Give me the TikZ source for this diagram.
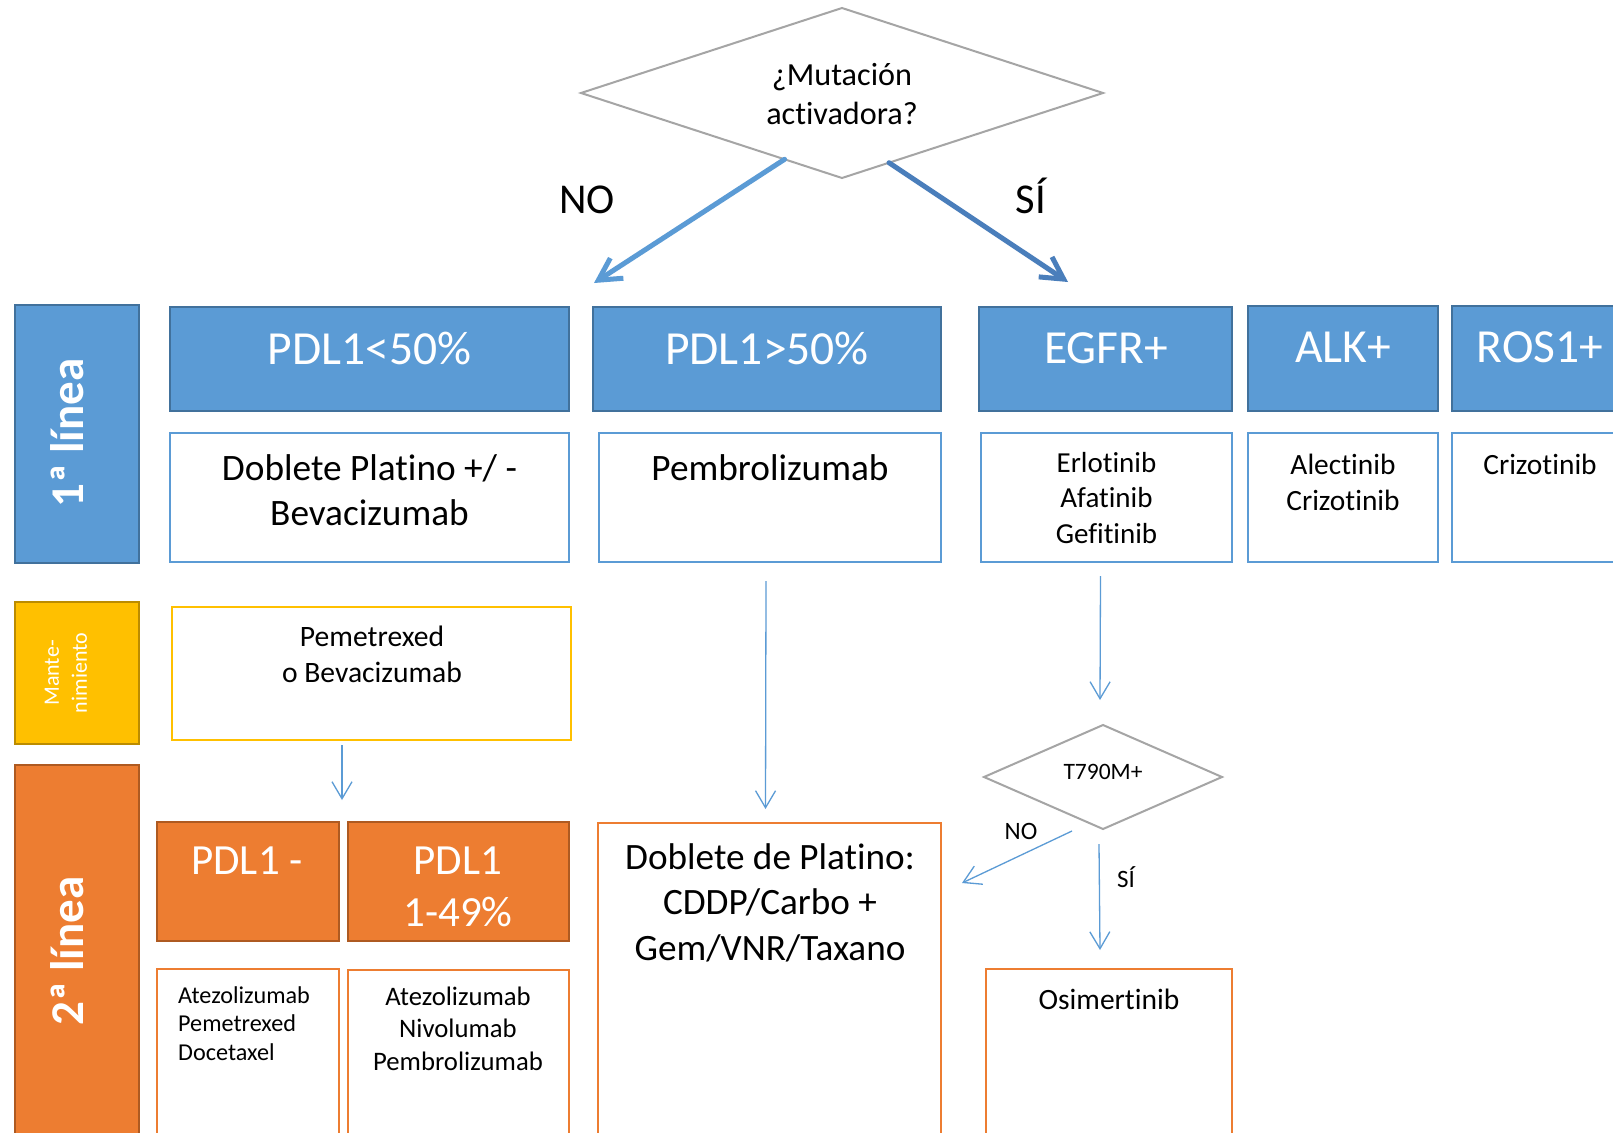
\documentclass[tikz,border=0pt]{standalone}
\usepackage{fontspec}
\setmainfont{Carlito}[Ligatures=NoCommon]
\usetikzlibrary{arrows.meta,calc,shapes.geometric}
\definecolor{bfill}{HTML}{5B9BD5}
\definecolor{bdark}{HTML}{41719C}
\definecolor{ofill}{HTML}{ED7D31}
\definecolor{odark}{HTML}{AE5A21}
\definecolor{yfill}{HTML}{FFC000}
\definecolor{ydark}{HTML}{BC8C00}
\definecolor{dgray}{HTML}{A5A5A5}
\definecolor{sidark}{HTML}{4A7EBB}
\begin{document}
\begin{tikzpicture}[x=1pt,y=-1pt,
  boxbase/.style={inner sep=0pt, outer sep=0pt, anchor=north west},
  hdr/.style={boxbase, draw=bdark, fill=bfill, line width=2.5pt},
  wbox/.style={boxbase, draw=bfill, fill=white, line width=2pt},
  obox/.style={boxbase, draw=odark, fill=ofill, line width=2.5pt},
  owbox/.style={boxbase, draw=ofill, fill=white, line width=2pt},
  ybox/.style={boxbase, draw=ydark, fill=yfill, line width=2.5pt},
  ywbox/.style={boxbase, draw=yfill, fill=white, line width=2.5pt},
  dia/.style={diamond, draw=dgray, line width=2pt, inner sep=0pt, outer sep=0pt},
  txt/.style={inner sep=0pt, anchor=base, align=center},
  htxt/.style={txt, text=white, font=\fontsize{47.5}{56}\selectfont},
  sidetxt/.style={inner sep=0pt, text=white, rotate=90, align=center},
  bigarrow/.style={line width=5pt, line cap=round, -{Straight Barb[length=22pt,width=24pt]}},
  tarrow/.style={draw=bfill, line width=1.3pt, -{Straight Barb[length=17pt,width=20pt]}}
]
\useasboundingbox (0,0) rectangle (1613,1132);
\clip (0,0) rectangle (1613,1132);
\fill[white] (0,0) rectangle (1613,1132);

% ---- decision diamond ----
\node[dia, minimum width=522pt, minimum height=170pt] (q1) at (842,93) {};
\node[txt, font=\fontsize{32.2}{38.5}\selectfont] (q1t) at (842,124) {¿Mutación\\activadora?};

% ---- left side labels ----
\node[hdr, minimum width=124pt, minimum height=258pt] (L1) at (15,305) {};
\node[sidetxt, font=\bfseries\fontsize{47}{54}\selectfont] (L1t) at (67,433) {1ª línea};
\node[ybox, minimum width=124pt, minimum height=142pt] (M) at (15,602) {};
\node[sidetxt, font=\fontsize{22}{28}\selectfont] (Mt) at (66,673) {Mante-\\nimiento};
\node[obox, minimum width=124pt, minimum height=380pt] (L2) at (15,765) {};
\node[sidetxt, font=\bfseries\fontsize{47}{54}\selectfont] (L2t) at (67,951) {2ª línea};

% ---- first line headers ----
\node[hdr, minimum width=399pt, minimum height=104pt] (hA) at (170,307) {};
\node[hdr, minimum width=348pt, minimum height=104pt] (hB) at (593,307) {};
\node[hdr, minimum width=253pt, minimum height=104pt] (hC) at (979,307) {};
\node[hdr, minimum width=190pt, minimum height=105pt] (hD) at (1248,306) {};
\node[hdr, minimum width=176pt, minimum height=105pt] (hE) at (1452,306) {};
\node[htxt] (hAt) at (369.5,364) {PDL1<50\%};
\node[htxt] (hBt) at (767,364) {PDL1>50\%};
\node[htxt] (hCt) at (1106,363) {EGFR+};
\node[htxt] (hDt) at (1343,362) {ALK+};
\node[htxt] (hEt) at (1540,362) {ROS1+};

% ---- first line treatments ----
\node[wbox, minimum width=399pt, minimum height=129pt] (wA) at (170,433) {};
\node[wbox, minimum width=342pt, minimum height=129pt] (wB) at (599,433) {};
\node[wbox, minimum width=251pt, minimum height=129pt] (wC) at (981,433) {};
\node[wbox, minimum width=190pt, minimum height=129pt] (wD) at (1248,433) {};
\node[wbox, minimum width=176pt, minimum height=129pt] (wE) at (1452,433) {};
\node[txt, font=\fontsize{37.3}{45}\selectfont] (wAt) at (369.5,525) {Doblete Platino +/ -\\Bevacizumab};
\node[txt, font=\fontsize{37.3}{45}\selectfont] (wBt) at (770,480) {Pembrolizumab};
\node[txt, font=\fontsize{29}{35.5}\selectfont] (wCt) at (1106.5,543) {Erlotinib\\Afatinib\\Gefitinib};
\node[txt, font=\fontsize{29.4}{36}\selectfont] (wDt) at (1343,510) {Alectinib\\Crizotinib};
\node[txt, font=\fontsize{29.4}{36}\selectfont] (wEt) at (1540,474) {Crizotinib};

% ---- maintenance ----
\node[ywbox, minimum width=399pt, minimum height=133pt] (wM) at (172,607) {};
\node[txt, font=\fontsize{29.6}{36}\selectfont] (wMt) at (372,682) {Pemetrexed\\o Bevacizumab};

% ---- second line ----
\node[obox, minimum width=182pt, minimum height=119pt] (oA) at (157,822) {};
\node[obox, minimum width=221pt, minimum height=119pt] (oB) at (348,822) {};
\node[txt, text=white, font=\fontsize{43}{52}\selectfont] (oAt) at (247,874) {PDL1 -};
\node[txt, text=white, font=\fontsize{43}{52}\selectfont] (oBt) at (458,926) {PDL1\\1-49\%};
\node[owbox, minimum width=182pt, minimum height=175pt] (wOA) at (157,969) {};
\node[owbox, minimum width=221pt, minimum height=175pt] (wOB) at (348,970) {};
\node[txt, anchor=base west, align=left, font=\fontsize{24.2}{28.5}\selectfont] (wOAt) at (178,1060) {Atezolizumab\\Pemetrexed\\Docetaxel};
\node[txt, font=\fontsize{26.7}{32.5}\selectfont] (wOBt) at (458,1070) {Atezolizumab\\Nivolumab\\Pembrolizumab};
\node[owbox, minimum width=343pt, minimum height=320pt] (dP) at (598,823) {};
\node[txt, font=\fontsize{37.2}{45.5}\selectfont] (dPt) at (770,960) {Doblete de Platino:\\CDDP/Carbo +\\Gem/VNR/Taxano};

% ---- T790M ----
\node[dia, minimum width=238pt, minimum height=104pt] (q2) at (1103,777) {};
\node[txt, font=\fontsize{23.5}{26}\selectfont] (q2t) at (1103,779) {T790M+};
\node[owbox, minimum width=246pt, minimum height=175pt] (os) at (986,969) {};
\node[txt, font=\fontsize{29.5}{34}\selectfont] (ost) at (1109,1009) {Osimertinib};

% ---- labels ----
\node[txt, font=\fontsize{42.5}{48}\selectfont] (noA) at (587,213) {NO};
\node[txt, font=\fontsize{42.5}{48}\selectfont] (siA) at (1031,213) {SÍ};
\node[txt, font=\fontsize{25}{28}\selectfont] (noB) at (1021,839) {NO};
\node[txt, font=\fontsize{25}{28}\selectfont] (siB) at (1126,887) {SÍ};

% ---- connectors ----
\coordinate (noEnd) at (594,283);
\coordinate (siEnd) at (1068,282);
\coordinate (noEnd2) at (962,883);
\draw[bigarrow, draw=bfill] ($(q1.west)!0.78!(q1.south)$) -- (noEnd);
\draw[bigarrow, draw=sidark] ($(q1.south)!0.18!(q1.east)$) -- (siEnd);
\draw[tarrow] ($(wM.south)+(-29.5,5)$) -- ($(wM.south)+(-29.5,60)$);
\draw[tarrow] ($(wB.south)+(-4,19)$) -- ($(dP.north)+(-4,-14)$);
\draw[tarrow] ($(wC.south)+(-6,14)$) -- ($(q2.north)+(-3,-25)$);
\draw[tarrow] ($(q2.south)+(-31,2)$) -- (noEnd2);
\draw[tarrow] ($(q2.south)+(-4,15)$) -- ($(os.north)+(-9,-19)$);
\end{tikzpicture}
\end{document}
